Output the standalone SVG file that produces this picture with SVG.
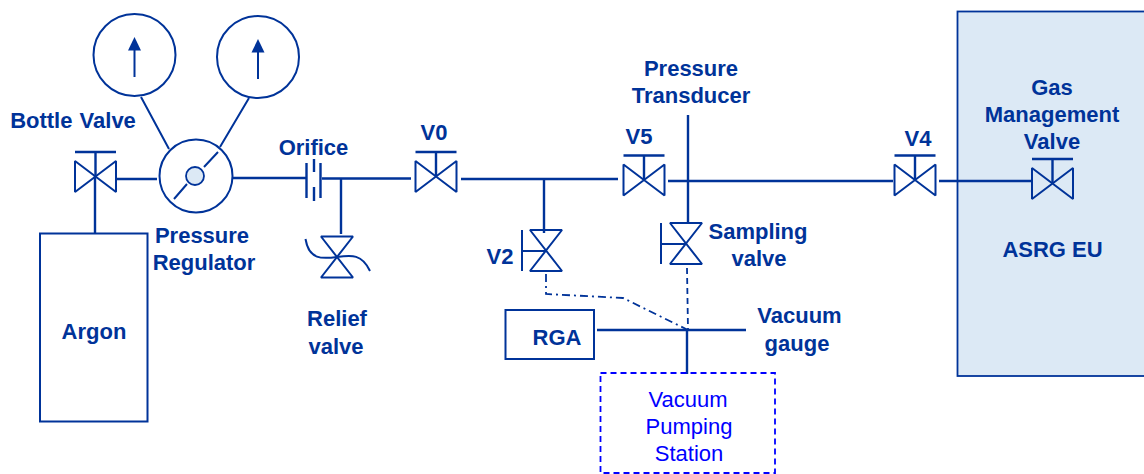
<svg xmlns="http://www.w3.org/2000/svg" width="1144" height="474" viewBox="0 0 1144 474">
<style>
.l{fill:none;stroke:#003399;stroke-width:2.4}
.t{fill:none;stroke:#003399;stroke-width:2}
.v{fill:none;stroke:#003399;stroke-width:2;stroke-linejoin:bevel}
.s{fill:none;stroke:#003399;stroke-width:2}
text{font-family:"Liberation Sans",Arial,sans-serif;font-size:22px;font-weight:700;fill:#003399;text-anchor:middle}
.b{font-weight:400;fill:#0000ff}
</style>
<defs>
<g id="hv"><path class="v" d="M-20.500,-15.500L20.500,15.500V-15.500L-20.500,15.500Z"/><path class="l" d="M0,0V-24.500M-20.500,-24.500H20.500"/></g>
<g id="vv"><path class="v" d="M-16,-20.500H16L-16,20.500H16Z"/></g>
</defs>
<rect width="1144" height="474" fill="#fff"/>
<g id="connectors">
<path class="s" d="M141,97L169,149M249,98L220,147M174,199L187,184M204,167L218,152"/>
<path class="l" d="M95,176V233M117,179H157M233,178H306M322,178.500H411M341,179V234M461,179H618M544,179V233"/>
<path class="l" d="M668,181H893M688,115V222M939,181H957"/>
<path class="l" d="M597,330H746M687,330V374"/>
<path fill="none" stroke="#003399" stroke-width="1.800" stroke-dasharray="6 4" d="M687,268L688,330"/>
<path fill="none" stroke="#003399" stroke-width="1.800" stroke-dasharray="8 4 2 4" d="M546,274V294L623,298L688,330"/>
</g>
<g id="gauge1"><circle class="t" cx="134.500" cy="55" r="41"/><path class="s" d="M134.500,77V48"/><path fill="#003399" d="M134.500,37L141,50.500H128Z"/></g>
<g id="gauge2"><circle class="t" cx="258" cy="57" r="41"/><path class="s" d="M258,79V50"/><path fill="#003399" d="M258,39L264.500,52.500H251.500Z"/></g>
<g id="regulator"><circle class="t" cx="196" cy="176" r="36.500"/><circle cx="195" cy="176" r="9" fill="#dce9f5" stroke="#003399" stroke-width="1.800"/><text x="202" y="243">Pressure</text><text x="204" y="270">Regulator</text></g>
<g id="bottle-valve"><use href="#hv" x="95.500" y="176.500"/><text x="73" y="128" word-spacing="1">Bottle Valve</text></g>
<g id="argon"><rect class="t" x="40" y="233.500" width="107.500" height="188"/><text x="94" y="339">Argon</text></g>
<g id="orifice"><path class="l" d="M306.500,163V198M320.500,163V198M314,159V172M314,187V201"/><text x="313.500" y="155">Orifice</text></g>
<g id="relief-valve"><use href="#vv" x="337" y="257"/><path class="t" d="M305.500,239C309,260 322,259 337,257C352,255 362,254 370,271"/><text x="337" y="326">Relief</text><text x="336" y="354">valve</text></g>
<g id="v0"><use href="#hv" x="436" y="176.500"/><text x="434" y="140">V0</text></g>
<g id="v2"><use href="#vv" x="546" y="250.500"/><path class="s" d="M522,230V271M522,251H546"/><text x="500" y="264">V2</text></g>
<g id="v5"><use href="#hv" x="644" y="180"/><text x="639" y="144">V5</text></g>
<g id="pressure-transducer"><text x="691" y="76">Pressure</text><text x="691" y="103">Transducer</text></g>
<g id="sampling-valve"><use href="#vv" x="686" y="243.500"/><path class="s" d="M661,223V264M661,244H686"/><text x="758" y="239">Sampling</text><text x="759" y="266">valve</text></g>
<g id="rga"><rect class="t" x="505.500" y="310" width="88.500" height="49"/><text x="557" y="345">RGA</text></g>
<g id="vacuum-gauge"><text x="799.500" y="323">Vacuum</text><text x="797" y="351">gauge</text></g>
<g id="pumping-station"><rect x="600.500" y="373" width="174.500" height="100" fill="none" stroke="#0000ff" stroke-width="1.800" stroke-dasharray="6 4"/><text class="b" x="688" y="407">Vacuum</text><text class="b" x="689" y="434">Pumping</text><text class="b" x="689" y="461">Station</text></g>
<g id="asrg-eu"><rect x="957.500" y="11.500" width="190" height="364.500" fill="#dce9f5" stroke="#003399" stroke-width="1.800"/><path class="l" d="M957,181H1032"/><text x="1052.500" y="257">ASRG EU</text></g>
<g id="v4"><use href="#hv" x="915" y="180"/><text x="918" y="146">V4</text></g>
<g id="gas-management-valve"><use href="#hv" x="1052.500" y="183.500"/><text x="1052" y="95">Gas</text><text x="1052" y="122">Management</text><text x="1052" y="149">Valve</text></g>
</svg>
